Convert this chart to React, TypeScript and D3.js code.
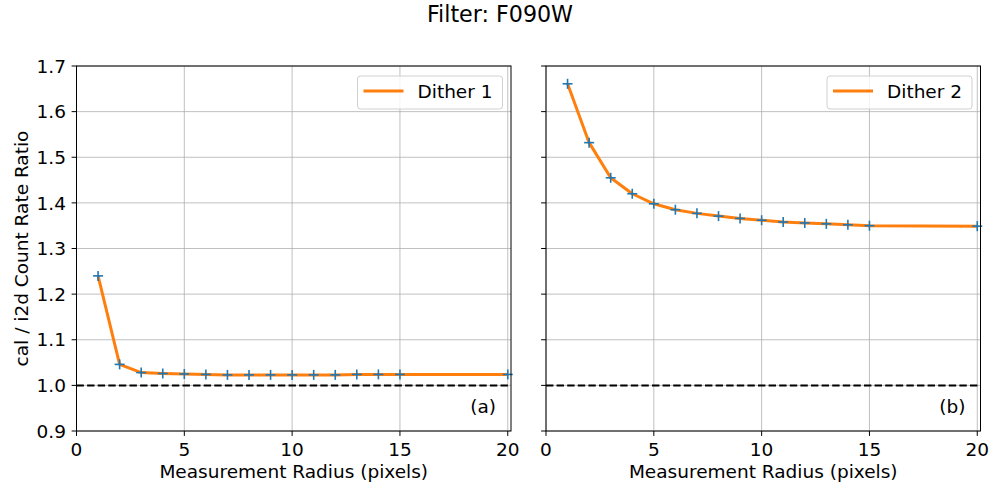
import React from "react";
import * as d3 from "d3";

const radii = [1, 2, 3, 4, 5, 6, 7, 8, 9, 10, 11, 12, 13, 14, 15, 20];
const dither1 = [1.24, 1.046, 1.028, 1.026, 1.025, 1.024, 1.023, 1.023, 1.023, 1.023, 1.023, 1.023, 1.024, 1.024, 1.024, 1.024];
const dither2 = [1.661, 1.532, 1.455, 1.42, 1.398, 1.385, 1.377, 1.371, 1.366, 1.362, 1.358, 1.356, 1.354, 1.352, 1.35, 1.349];
const xTicks = [0, 5, 10, 15, 20];
const yTicks = [0.9, 1.0, 1.1, 1.2, 1.3, 1.4, 1.5, 1.6, 1.7];
const panels = [
  { label: "Dither 1", tag: "(a)", values: dither1 },
  { label: "Dither 2", tag: "(b)", values: dither2 },
];

const W = 989, H = 486;
const font = "DejaVu Sans, sans-serif";
const fs = 18.5;
const panelLefts = [76.5, 546];
const panelWidth = 434.5;
const top = 66, bottom = 431;

function Panel({ idx }: { idx: number }) {
  const p = panels[idx];
  const x0 = panelLefts[idx];
  const x = d3.scaleLinear().domain([0, 20.15]).range([x0, x0 + panelWidth]);
  const y = d3.scaleLinear().domain([0.9, 1.7]).range([bottom, top]);
  const line = d3.line<number>().x((_, i) => x(radii[i])).y((d) => y(d));
  const legX = x0 + panelWidth - 153.5;
  return (
    <g>
      {xTicks.map((t) => (
        <line key={"gx" + t} x1={x(t)} x2={x(t)} y1={top} y2={bottom} stroke="#b0b0b0" strokeWidth={0.8} />
      ))}
      {yTicks.map((t) => (
        <line key={"gy" + t} x1={x0} x2={x0 + panelWidth} y1={y(t)} y2={y(t)} stroke="#b0b0b0" strokeWidth={0.8} />
      ))}
      <line x1={x0} x2={x0 + panelWidth} y1={y(1.0)} y2={y(1.0)} stroke="#000" strokeWidth={2} strokeDasharray="7.4,3.2" />
      <path d={line(p.values) || ""} fill="none" stroke="#ff7f0e" strokeWidth={3} strokeLinejoin="round" />
      {p.values.map((v, i) => (
        <g key={"m" + i} stroke="#1f77b4" strokeWidth={1.6}>
          <line x1={x(radii[i]) - 5} x2={x(radii[i]) + 5} y1={y(v)} y2={y(v)} />
          <line x1={x(radii[i])} x2={x(radii[i])} y1={y(v) - 5} y2={y(v) + 5} />
        </g>
      ))}
      <rect x={x0} y={top} width={panelWidth} height={bottom - top} fill="none" stroke="#000" strokeWidth={1} />
      {xTicks.map((t) => (
        <g key={"tx" + t}>
          <line x1={x(t)} x2={x(t)} y1={bottom} y2={bottom + 4.9} stroke="#000" strokeWidth={1} />
          <text x={x(t)} y={456} textAnchor="middle" fontSize={fs} fontFamily={font} fill="#000">{t}</text>
        </g>
      ))}
      {yTicks.map((t) => (
        <g key={"ty" + t}>
          <line x1={x0 - 4.9} x2={x0} y1={y(t)} y2={y(t)} stroke="#000" strokeWidth={1} />
          {idx === 0 && (
            <text x={x0 - 10.5} y={y(t) + 6.7} textAnchor="end" fontSize={fs} fontFamily={font} fill="#000">{t.toFixed(1)}</text>
          )}
        </g>
      ))}
      <text x={x0 + panelWidth / 2} y={478} textAnchor="middle" fontSize={fs} fontFamily={font} fill="#000">Measurement Radius (pixels)</text>
      <text x={x0 + panelWidth - 15} y={413} textAnchor="end" fontSize={fs} fontFamily={font} fill="#000">{p.tag}</text>
      <rect x={legX} y={76} width={145} height={33} rx={3} fill="#fff" fillOpacity={0.8} stroke="#d0d0d0" strokeWidth={1} />
      <line x1={legX + 6} x2={legX + 46} y1={91} y2={91} stroke="#ff7f0e" strokeWidth={3} />
      <text x={legX + 60} y={98} fontSize={fs} fontFamily={font} fill="#000">{p.label}</text>
    </g>
  );
}

export default function App() {
  return (
    <svg width={W} height={H} style={{ display: "block", position: "absolute", left: 0, top: 0, background: "#fff" }}>
      <rect width={W} height={H} fill="#fff" />
      <text x={500} y={22} textAnchor="middle" fontSize={22.2} fontFamily={font} fill="#000">Filter: F090W</text>
      <text transform={`translate(28,${(top + bottom) / 2}) rotate(-90)`} textAnchor="middle" fontSize={fs} fontFamily={font} fill="#000">cal / i2d Count Rate Ratio</text>
      <Panel idx={0} />
      <Panel idx={1} />
    </svg>
  );
}
